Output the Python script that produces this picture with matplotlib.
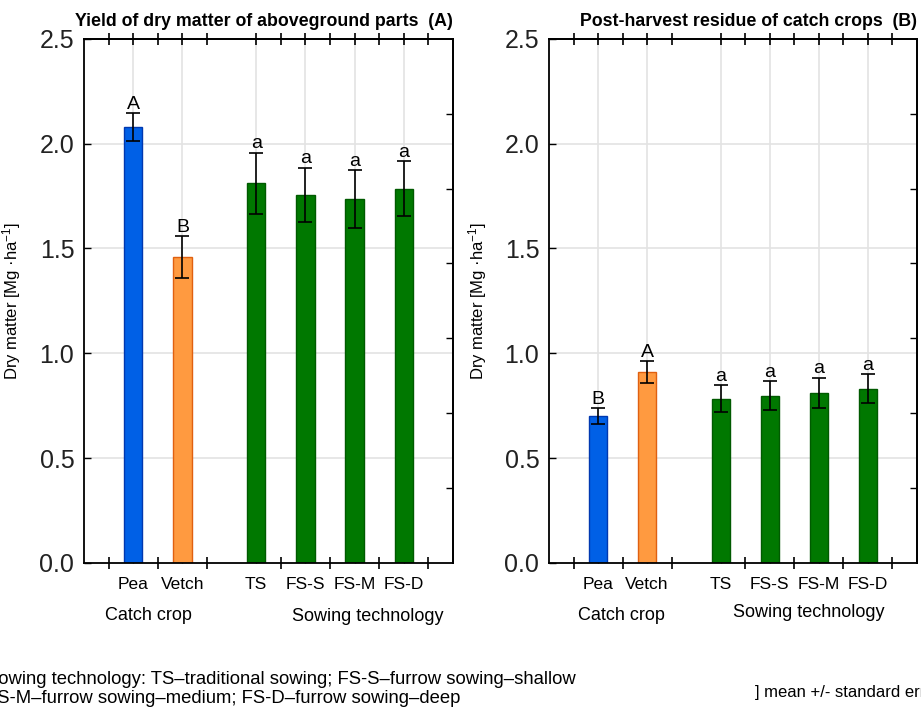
import matplotlib
matplotlib.use("Agg")
import matplotlib.pyplot as plt

plt.rcParams['font.family'] = ['Liberation Sans', 'DejaVu Sans']
plt.rcParams['mathtext.default'] = 'regular'

categories = ["Pea", "Vetch", "TS", "FS-S", "FS-M", "FS-D"]
yield_mean = [2.08, 1.46, 1.81, 1.755, 1.735, 1.785]
yield_se = [0.066, 0.099, 0.146, 0.13, 0.137, 0.13]
yield_letters = ["A", "B", "a", "a", "a", "a"]
residue_mean = [0.70, 0.91, 0.784, 0.798, 0.81, 0.83]
residue_se = [0.037, 0.052, 0.064, 0.069, 0.073, 0.069]
residue_letters = ["B", "A", "a", "a", "a", "a"]
titles = ["Yield of dry matter of aboveground parts  (A)",
          "Post-harvest residue of catch crops  (B)"]

positions = [1.0, 2.0, 3.5, 4.5, 5.5, 6.5]
boundaries = [0.5, 1.5, 2.5, 4.0, 5.0, 6.0, 7.0]
top_ticks = [0.5, 1.0, 1.5, 2.0, 2.5, 3.5, 4.0, 4.5, 5.0, 5.5, 6.0, 6.5, 7.0]
face_colors = ["#0060E6", "#FF9A40", "#007800", "#007800", "#007800", "#007800"]
edge_colors = ["#0038B0", "#E06010", "#005A00", "#005A00", "#005A00", "#005A00"]

fig = plt.figure(figsize=(9.21, 7.11), dpi=100)
W, H = 921, 711
axes_px = [(84, 453), (549, 917)]
top_px, bot_px = 38.7, 563
group_pos = [((1.30, -0.248), (5.77, -0.257)), ((1.48, -0.251), (5.30, -0.237))]

for i, (means, ses, letters) in enumerate([(yield_mean, yield_se, yield_letters),
                                           (residue_mean, residue_se, residue_letters)]):
    l, r = axes_px[i]
    ax = fig.add_axes([l / W, 1 - bot_px / H, (r - l) / W, (bot_px - top_px) / H])
    ax.set_xlim(0, 7.5)
    ax.set_ylim(0, 2.5)
    # grid
    for y in [0.5, 1.0, 1.5, 2.0]:
        ax.axhline(y, color="#E3E3E3", lw=1.2, zorder=0)
    for x in positions:
        ax.axvline(x, color="#E3E3E3", lw=1.2, zorder=0)
    ax.bar(positions, means, width=0.37, color=face_colors, edgecolor=edge_colors,
           linewidth=1.0, zorder=2)
    ax.errorbar(positions, means, yerr=ses, fmt="none", ecolor="black",
                elinewidth=1.2, capsize=5, capthick=1.2, zorder=3)
    for x, m, s, t in zip(positions, means, ses, letters):
        ax.annotate(t, (x, m + s), xytext=(0, 0.3), textcoords="offset points",
                    ha="center", va="bottom", fontsize=14)
    # y axis
    ax.set_yticks([0.0, 0.5, 1.0, 1.5, 2.0, 2.5])
    ax.set_yticklabels(["0.0", "0.5", "1.0", "1.5", "2.0", "2.5"], fontsize=18,
                       color="#222222")
    ax.tick_params(axis="y", direction="in", length=5, width=1, pad=7)
    ax.set_ylabel("Dry matter [Mg ·ha$^{-1}$]", fontsize=12)
    ax.yaxis.set_label_coords(-0.164, 0.5)
    # x axis
    ax.set_xticks(positions)
    ax.set_xticklabels(categories, fontsize=12.5)
    ax.tick_params(axis="x", which="major", direction="in", length=4, width=1, pad=10)
    ax.set_xticks(boundaries, minor=True)
    ax.tick_params(axis="x", which="minor", direction="inout", length=9, width=1.2)
    # top ticks
    sec_top = ax.secondary_xaxis("top")
    sec_top.set_xticks(top_ticks)
    sec_top.set_xticklabels([])
    sec_top.tick_params(direction="inout", length=9, width=1.2)
    # right ticks
    sec_right = ax.secondary_yaxis("right", functions=(lambda y: y * 7 / 2.5,
                                                       lambda y: y * 2.5 / 7))
    sec_right.set_yticks([1, 2, 3, 4, 5, 6])
    sec_right.set_yticklabels([])
    sec_right.tick_params(direction="in", length=5, width=1)
    for sp in ax.spines.values():
        sp.set_linewidth(1.3)
    for sp in list(sec_top.spines.values()) + list(sec_right.spines.values()):
        sp.set_linewidth(1.3)
    ax.set_title(titles[i], fontsize=12.8, fontweight="bold", loc="right", pad=9)
    # group labels
    (cx, cy), (sx, sy) = group_pos[i]
    ax.text(cx, cy, "Catch crop", ha="center", va="center", fontsize=13,
            transform=ax.transData, clip_on=False)
    ax.text(sx, sy, "Sowing technology", ha="center", va="center", fontsize=13,
            transform=ax.transData, clip_on=False)

fig.text(-14 / W, 1 - 689 / H,
         "Sowing technology: TS\u2013traditional sowing; FS-S\u2013furrow sowing\u2013shallow\n"
         "FS-M\u2013furrow sowing\u2013medium; FS-D\u2013furrow sowing\u2013deep",
         ha="left", va="center", fontsize=13.3, linespacing=1.2)
fig.text(755 / W, 1 - 693 / H, "] mean +/- standard error", ha="left", va="center",
         fontsize=12)

fig.savefig("out.png", dpi=100)
